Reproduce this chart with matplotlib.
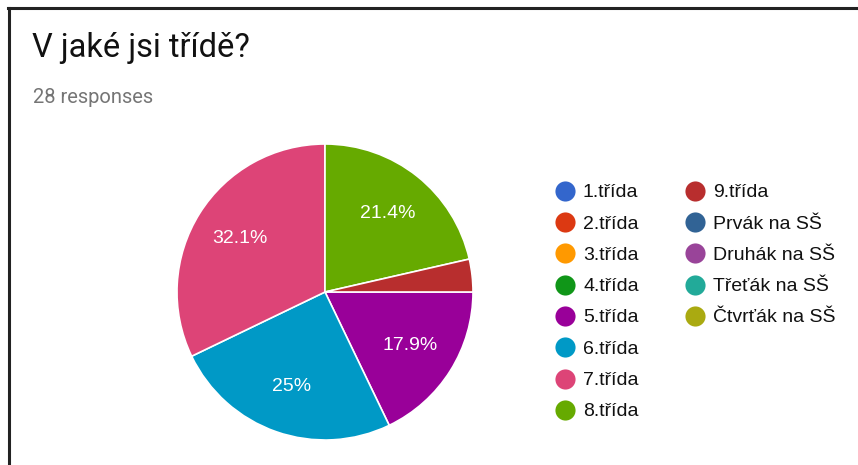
import numpy as np
import matplotlib
matplotlib.use("Agg")
import matplotlib.pyplot as plt
from matplotlib.lines import Line2D

# survey answers (28 responses)
labels = ["1.třída", "2.třída", "3.třída", "4.třída", "5.třída", "6.třída",
          "7.třída", "8.třída", "9.třída", "Prvák na SŠ", "Druhák na SŠ",
          "Třeťák na SŠ", "Čtvrťák na SŠ"]
counts = [0, 0, 0, 0, 5, 7, 9, 6, 1, 0, 0, 0, 0]
colors = ["#3366cc", "#dc3912", "#ff9900", "#109618", "#990099", "#0099c6",
          "#dd4477", "#66aa00", "#b82e2e", "#316395", "#994499", "#22aa99",
          "#aaaa11"]
title = "V jaké jsi třídě?"
subtitle = "28 responses"

W, H = 858, 465
fig = plt.figure(figsize=(W / 100, H / 100), dpi=100)
fig.patch.set_facecolor("white")


def fx(px):
    return px / W


def fy(py):
    return 1 - py / H


# card border (top + left only, screenshot is cropped)
fig.add_artist(Line2D([fx(8), 1], [fy(8.5), fy(8.5)], color="#222222", lw=2.2))
fig.add_artist(Line2D([fx(8.5), fx(8.5)], [fy(8), 0], color="#222222", lw=2.2))

fig.text(fx(32), fy(57), title, fontsize=23.5, family=["Roboto", "DejaVu Sans"],
         color="#111111", va="baseline", ha="left")
fig.text(fx(33), fy(103), subtitle, fontsize=14.5, family=["Roboto", "DejaVu Sans"],
         color="#757575", va="baseline", ha="left")

# pie
cx, cy, r = 325, 292, 148
ax = fig.add_axes([fx(cx - r), fy(cy + r), 2 * r / W, 2 * r / H])
vals = [c for c in counts if c > 0]
cols = [colors[i] for i, c in enumerate(counts) if c > 0]
total = sum(counts)


def pct(p):
    if p < 5:
        return ""
    s = f"{p:.1f}"
    if s.endswith(".0"):
        s = s[:-2]
    return s + "%"


wedges, texts, autotexts = ax.pie(
    vals, colors=cols, startangle=0, counterclock=False, radius=1,
    autopct=pct, pctdistance=0.68,
    wedgeprops=dict(edgecolor="white", linewidth=1.2),
    textprops=dict(color="white", fontsize=14, family=["Liberation Sans", "DejaVu Sans"]))
ax.set_xlim(-1, 1)
ax.set_ylim(-1, 1)
ax.set_aspect("equal")
ax.axis("off")

# legend, two columns
col_x = [565, 695]
row_y0, row_dy = 190.7, 31.3
per_col = 8
for i, (name, color) in enumerate(zip(labels, colors)):
    c = i // per_col
    row = i % per_col
    x = col_x[c]
    y = row_y0 + row * row_dy
    fig.add_artist(Line2D([fx(x)], [fy(y)], marker="o", markersize=14.5,
                          color=color, markeredgewidth=0, linestyle="none"))
    fig.text(fx(x + 18), fy(y + 6.5), name, fontsize=14,
             family=["Liberation Sans", "DejaVu Sans"], color="#111111",
             va="baseline", ha="left")

fig.savefig("out.png", dpi=100, facecolor="white")
